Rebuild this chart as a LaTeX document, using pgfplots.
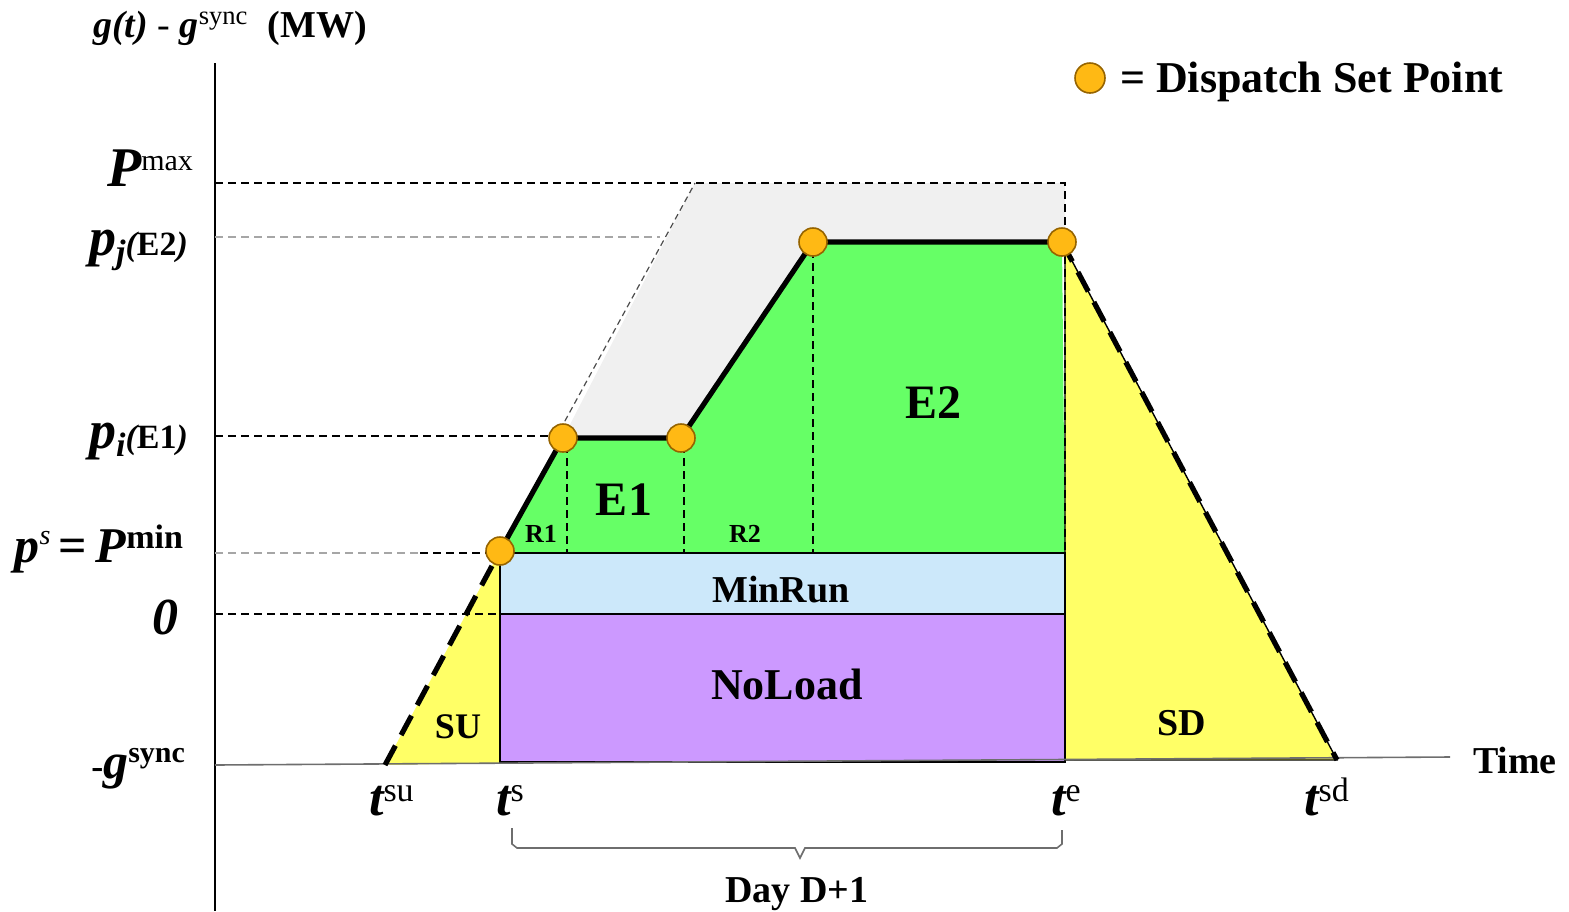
\documentclass[border=0pt]{standalone}
\usepackage{fontspec}
\setmainfont{Liberation Serif}
\usepackage{pgfplots}
\pgfplotsset{compat=1.18}

\definecolor{runG}{RGB}{102,255,102}
\definecolor{rampY}{RGB}{255,255,102}
\definecolor{minB}{RGB}{204,232,250}
\definecolor{noP}{RGB}{204,153,255}
\definecolor{headG}{RGB}{240,240,240}
\definecolor{setO}{RGB}{255,185,20}
\definecolor{setE}{RGB}{150,100,0}
\definecolor{axG}{RGB}{110,110,110}

\newcommand{\fs}[1]{\fontsize{#1}{#1}\selectfont}

\begin{document}
\begin{tikzpicture}
\begin{axis}[
  width=784.5pt, height=455.5pt, scale only axis,
  xmin=0, xmax=1569, ymin=0, ymax=911, y dir=reverse,
  axis lines=none, clip=false,
  thin dash/.style={dash pattern=on 4pt off 2.5pt, line width=0.8pt},
  every node/.style={inner sep=0pt},
]
% headroom up to Pmax
\addplot[fill=headG, draw=none] coordinates {(563,438) (695,183) (1065,183) (1065,242) (813,242) (681,438)} -- cycle;
% energy blocks
\addplot[fill=runG, draw=none] coordinates {(500,551) (563,438) (681,438) (813,242) (1062,242) (1065,553) (500,553)} -- cycle;
% start-up and shut-down ramps
\addplot[fill=rampY, draw=none] coordinates {(385,765) (500,551) (500,763)} -- cycle;
\addplot[fill=rampY, draw=black, line width=0.7pt] coordinates {(1062,242) (1337,760) (1065,760) (1065,242)};
% MinRun and NoLoad
\addplot[fill=minB, draw=black, line width=0.8pt] coordinates {(500,553) (1065,553) (1065,614) (500,614)} -- cycle;
\addplot[fill=noP, draw=black, line width=0.8pt] coordinates {(500,614) (1065,614) (1065,762) (500,762)} -- cycle;

% axes
\addplot[black, line width=0.8pt] coordinates {(215,63) (215,911)};
\addplot[axG, line width=0.8pt] coordinates {(215,765) (1450,757)};

% reference levels
\addplot[black, thin dash] coordinates {(215,183) (1065,183) (1065,553)};
\addplot[gray!70, thin dash] coordinates {(215,237) (660,237)};
\addplot[black, thin dash] coordinates {(215,436) (552,436)};
\addplot[gray!70, thin dash] coordinates {(215,553) (420,553)};
\addplot[black, thin dash] coordinates {(420,553) (490,553)};
\addplot[black, thin dash] coordinates {(215,614) (497,614)};
\addplot[gray!60!black, dash pattern=on 3pt off 2pt, line width=0.6pt] coordinates {(560,430) (695,183)};
\addplot[black, thin dash] coordinates {(567,445) (567,553)};
\addplot[black, thin dash] coordinates {(684,445) (684,553)};
\addplot[black, thin dash] coordinates {(813,250) (813,553)};

% dispatch trajectory
\addplot[black, line width=2.6pt, line join=round] coordinates {(500,551) (563,438) (681,438) (813,242) (1062,242)};
\addplot[black, line width=2.6pt, dash pattern=on 11pt off 6pt] coordinates {(385,765) (500,551)};
\addplot[black, line width=2.6pt, dash pattern=on 11pt off 6pt] coordinates {(1062,242) (1337,760)};

% Day D+1 brace
\addplot[axG, line width=0.8pt] coordinates {(512,828) (512,844) (517,848) (795,848) (800,858) (805,848) (1057,848) (1062,844) (1062,830)};

% set points
\addplot[only marks, mark=*, mark size=7pt, mark options={fill=setO, draw=setE, line width=0.8pt}]
  coordinates {(500,551) (563,438) (681,438) (813,242) (1062,242)};
\addplot[only marks, mark=*, mark size=7.5pt, mark options={fill=setO, draw=setE, line width=0.8pt}]
  coordinates {(1090,78)};

% region labels
\node[font=\fs{18}\bfseries] at (axis cs:458,727) {SU};
\node[font=\fs{19}\bfseries] at (axis cs:1182,723) {SD};
\node[font=\fs{22}\bfseries] at (axis cs:787,684) {NoLoad};
\node[font=\fs{19}\bfseries] at (axis cs:781,590) {MinRun};
\node[font=\fs{24}\bfseries] at (axis cs:624,500) {E1};
\node[font=\fs{24}\bfseries] at (axis cs:933,403) {E2};
\node[font=\fs{13}\bfseries] at (axis cs:541,534) {R1};
\node[font=\fs{13}\bfseries] at (axis cs:745,534) {R2};

% legend
\node[anchor=base west, font=\fs{22}\bfseries] at (axis cs:1113,92) {= Dispatch Set Point};

% axis titles
\node[anchor=base, font=\fs{19}] at (axis cs:230,37) {{\bfseries\itshape g(t)} - {\bfseries\itshape g}\textsuperscript{sync}~~{\bfseries (MW)}};
\node[anchor=base west, font=\fs{19}\bfseries] at (axis cs:1466,773) {Time};

% level labels
\node[anchor=base east] at (axis cs:200,186) {{\fs{28}\bfseries\itshape P}\raisebox{8pt}{\fs{15}max}};
\node[anchor=base east] at (axis cs:195,255) {{\fs{27}\bfseries\itshape p}\raisebox{-4pt}{\fs{17}\bfseries\itshape j}{\fs{17}\bfseries\itshape(\upshape E2\itshape)}};
\node[anchor=base east] at (axis cs:195,448) {{\fs{27}\bfseries\itshape p}\raisebox{-4pt}{\fs{17}\bfseries\itshape i}{\fs{17}\bfseries\itshape(\upshape E1\itshape)}};
\node[anchor=base east] at (axis cs:190,562) {{\fs{25}\bfseries\itshape p}\raisebox{9pt}{\fs{14}\itshape s}{\fs{25}\bfseries\,=\,}{\fs{25}\bfseries\itshape P}\raisebox{7pt}{\fs{17}\bfseries min}};
\node[anchor=base east, font=\fs{26}\bfseries\itshape] at (axis cs:186,634) {0};
\node[anchor=base east] at (axis cs:192,778) {{\fs{18}\bfseries -}{\fs{25}\bfseries\itshape g}\raisebox{8pt}{\fs{15}\bfseries sync}};

% time labels
\node[anchor=base west] at (axis cs:362,815) {{\fs{26}\bfseries\itshape t}\raisebox{7pt}{\fs{17}su}};
\node[anchor=base west] at (axis cs:489,815) {{\fs{26}\bfseries\itshape t}\raisebox{7pt}{\fs{17}s}};
\node[anchor=base west] at (axis cs:1044,815) {{\fs{26}\bfseries\itshape t}\raisebox{7pt}{\fs{17}e}};
\node[anchor=base west] at (axis cs:1297,815) {{\fs{26}\bfseries\itshape t}\raisebox{7pt}{\fs{17}sd}};
\node[anchor=base, font=\fs{19}\bfseries] at (axis cs:797,902) {Day D+1};
\end{axis}
\pgfresetboundingbox
\path (0,0) rectangle (784.5pt,455.5pt);
\end{tikzpicture}
\end{document}
